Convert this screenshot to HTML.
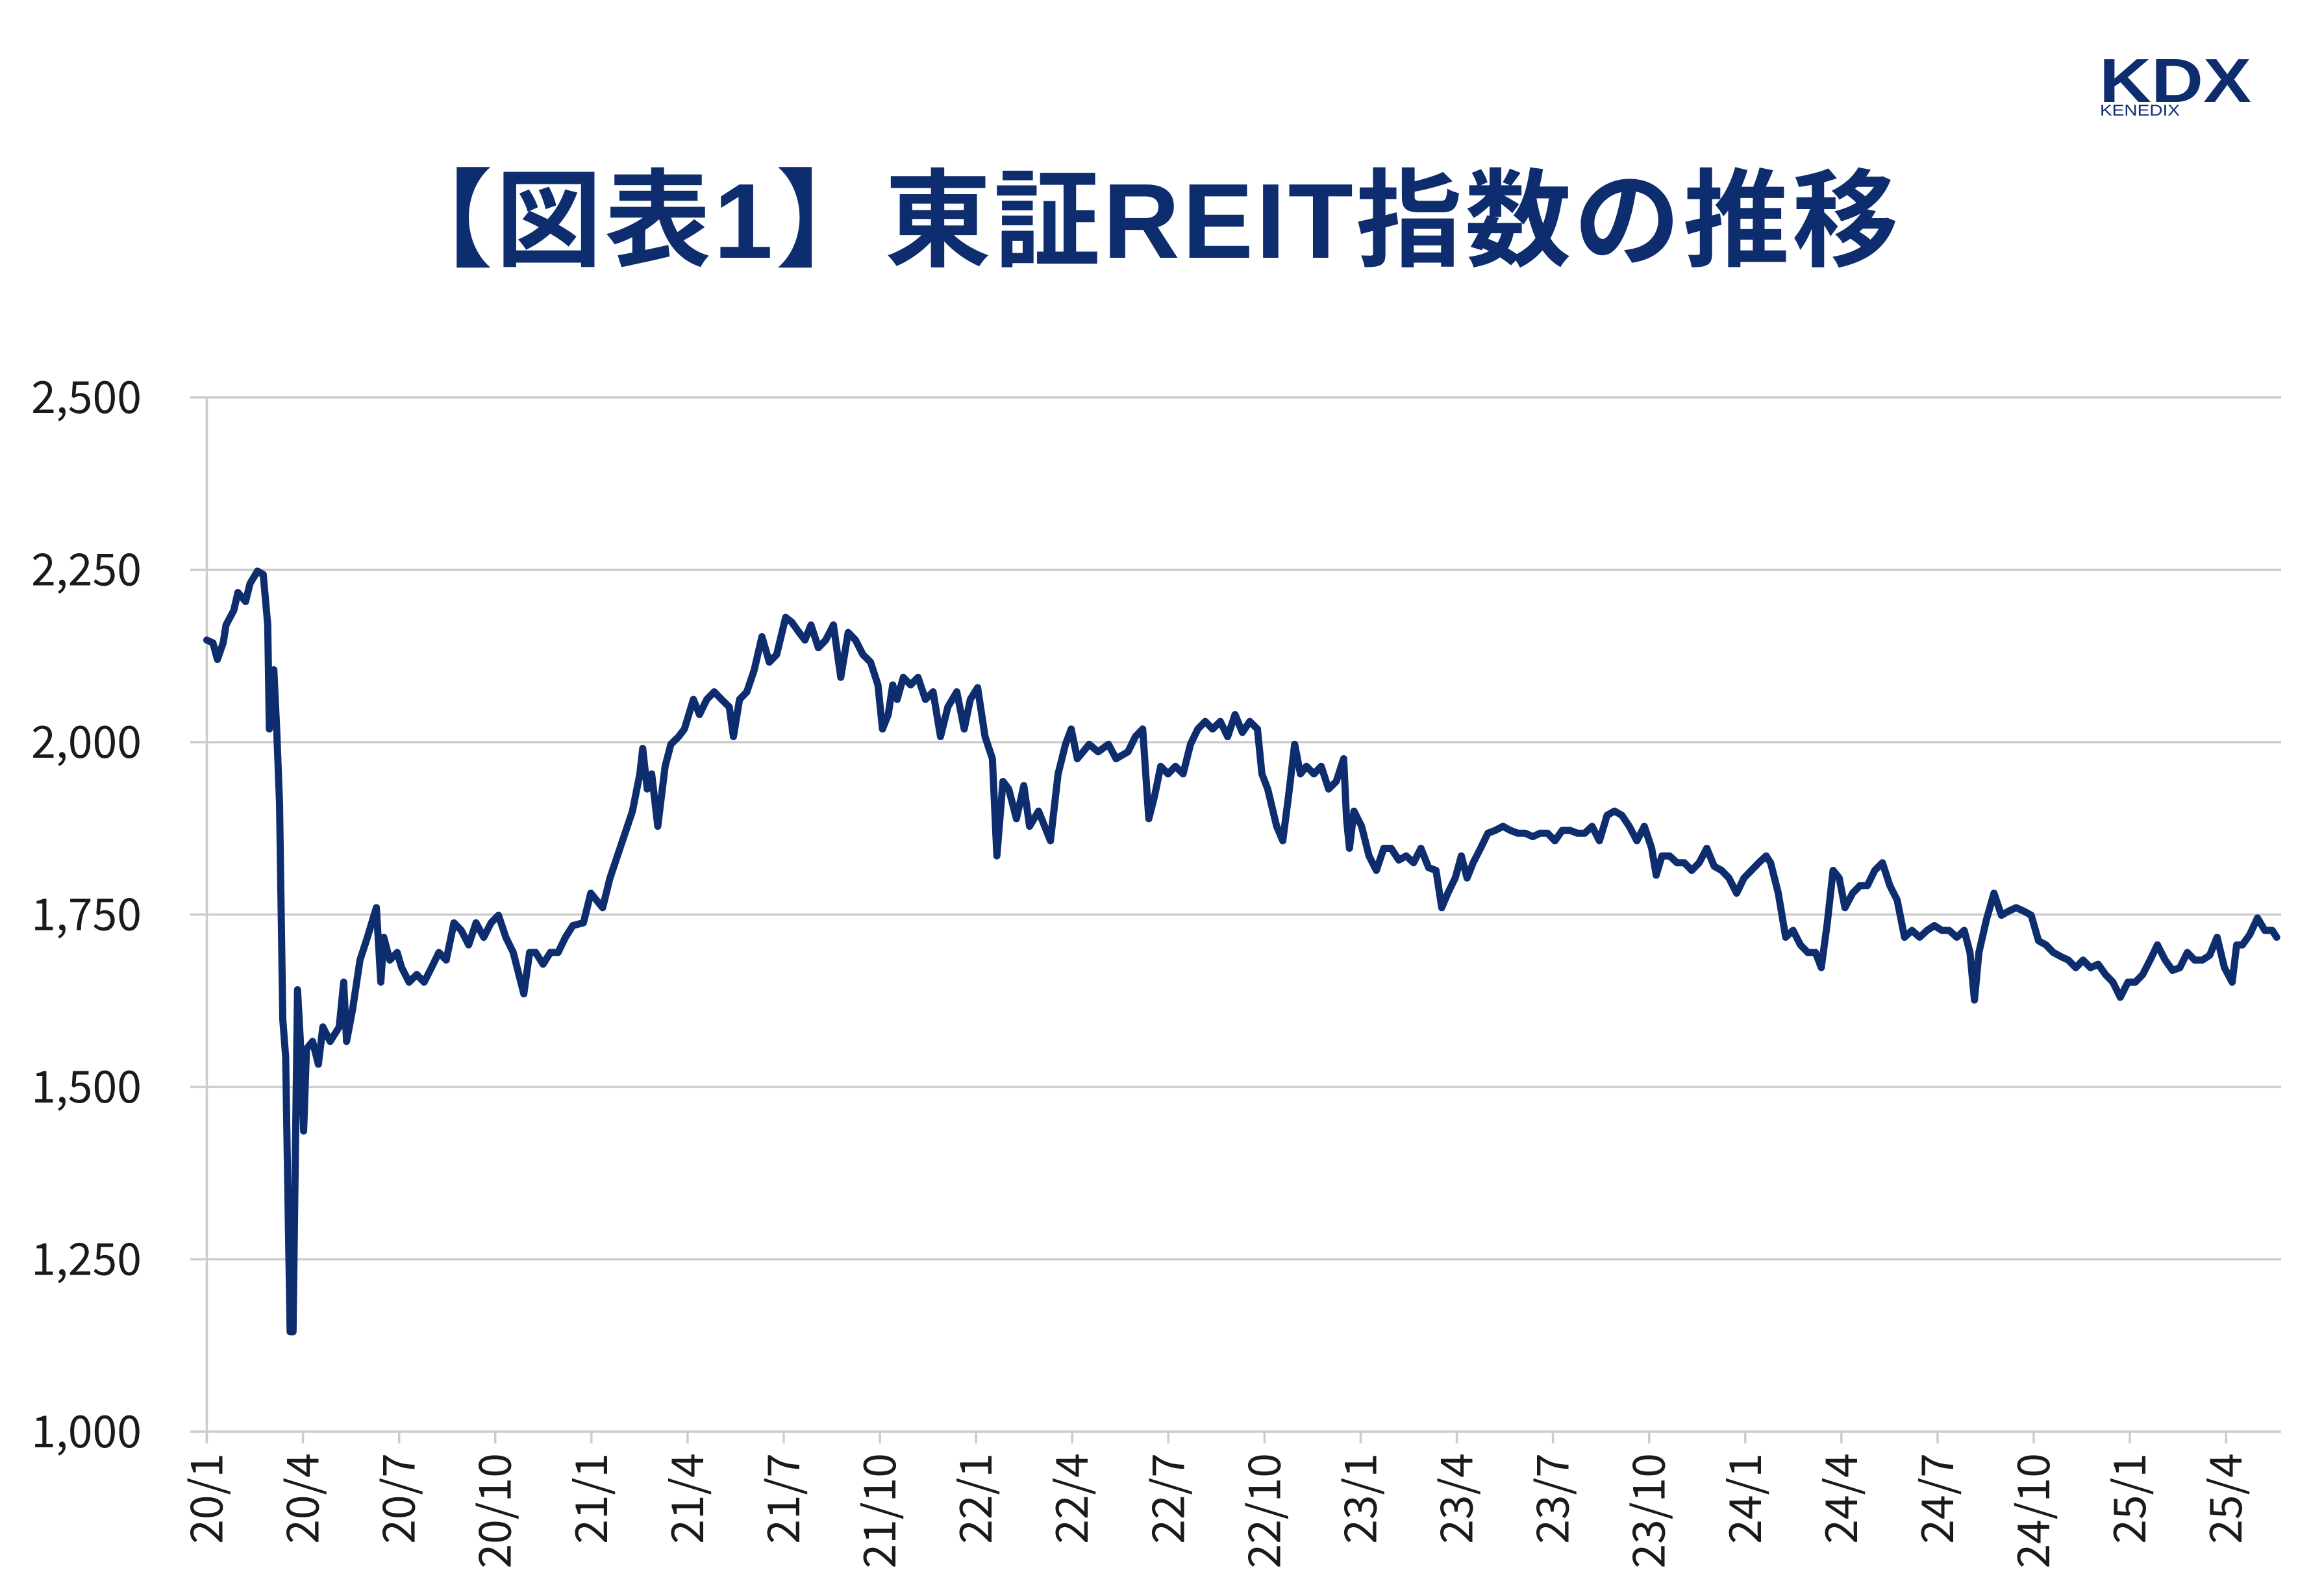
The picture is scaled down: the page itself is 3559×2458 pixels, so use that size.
<!DOCTYPE html>
<html><head><meta charset="utf-8">
<style>
html,body{margin:0;padding:0;background:#fff;}
body{width:3559px;height:2458px;position:relative;overflow:hidden;font-family:"Liberation Sans","Noto Sans CJK JP",sans-serif;}
#title{position:absolute;left:-18px;width:3559px;top:246px;text-align:center;font-family:"Liberation Sans","Noto Sans CJK JP",sans-serif;font-weight:bold;font-size:164px;color:#0e2d6e;line-height:190px;letter-spacing:4px;}
svg{position:absolute;left:0;top:0;}
</style></head>
<body>
<div id="title">【図表1】東証REIT指数の推移</div>
<svg id="logo" width="3559" height="220" viewBox="0 0 3559 220">
  <text x="3233" y="157" font-family="Liberation Sans, sans-serif" font-weight="bold" font-size="96" fill="#0e2d6e" textLength="234" lengthAdjust="spacingAndGlyphs">KDX</text>
  <text x="3234" y="178" font-family="Liberation Sans, sans-serif" font-size="24" fill="#0e2d6e" textLength="123" lengthAdjust="spacingAndGlyphs">KENEDIX</text>
</svg>
<svg id="chart" width="3559" height="2458" viewBox="0 0 3559 2458"></svg>
<script>
const months = [0.00,0.19,0.33,0.51,0.60,0.84,0.97,1.21,1.35,1.58,1.76,1.90,1.95,2.09,2.18,2.27,2.37,2.46,2.60,2.69,2.83,2.92,3.02,3.11,3.30,3.48,3.62,3.85,4.13,4.27,4.36,4.55,4.78,5.01,5.29,5.43,5.52,5.71,5.94,6.08,6.31,6.55,6.78,7.01,7.24,7.47,7.71,7.94,8.17,8.40,8.64,8.87,9.10,9.33,9.56,9.89,10.07,10.26,10.49,10.72,10.96,11.19,11.42,11.75,11.98,12.35,12.58,12.81,13.05,13.28,13.51,13.60,13.74,13.88,14.07,14.30,14.48,14.72,14.90,15.18,15.37,15.60,15.83,16.06,16.30,16.43,16.62,16.85,17.08,17.32,17.55,17.78,18.06,18.25,18.48,18.66,18.85,19.08,19.31,19.55,19.78,20.01,20.24,20.47,20.71,20.94,21.08,21.26,21.40,21.54,21.73,21.96,22.19,22.42,22.66,22.89,23.12,23.40,23.63,23.82,24.05,24.28,24.51,24.65,24.84,25.02,25.26,25.49,25.67,25.95,26.14,26.32,26.56,26.79,26.97,27.16,27.34,27.53,27.81,28.13,28.37,28.74,28.97,29.20,29.39,29.57,29.76,29.99,30.22,30.46,30.69,30.92,31.15,31.38,31.62,31.85,32.08,32.31,32.54,32.78,32.92,33.10,33.38,33.57,33.75,33.94,34.12,34.31,34.54,34.77,35.00,35.24,35.47,35.56,35.65,35.79,36.03,36.26,36.49,36.72,36.95,37.19,37.42,37.65,37.88,38.12,38.35,38.53,38.72,38.95,39.14,39.32,39.51,39.74,39.97,40.20,40.44,40.67,40.90,41.13,41.37,41.60,41.83,42.06,42.29,42.53,42.76,42.99,43.22,43.45,43.69,43.92,44.15,44.38,44.62,44.85,45.08,45.22,45.40,45.64,45.87,46.10,46.33,46.56,46.80,47.03,47.26,47.49,47.73,47.96,48.19,48.42,48.65,48.79,49.03,49.26,49.49,49.72,49.95,50.19,50.37,50.56,50.74,50.93,51.11,51.35,51.58,51.81,52.04,52.28,52.51,52.74,52.97,53.20,53.44,53.67,53.90,54.13,54.36,54.60,54.83,55.01,55.15,55.29,55.52,55.76,55.99,56.22,56.45,56.69,56.92,57.15,57.38,57.61,57.85,58.08,58.31,58.54,58.77,59.01,59.24,59.47,59.70,59.94,60.17,60.40,60.63,60.86,61.10,61.33,61.56,61.79,62.02,62.26,62.49,62.72,62.95,63.19,63.33,63.51,63.74,63.98,64.21,64.44,64.58];
const values = [2148,2144,2120,2144,2170,2191,2217,2204,2230,2248,2243,2170,2019,2105,2019,1911,1598,1544,1145,1145,1641,1566,1436,1555,1566,1533,1587,1566,1587,1652,1566,1613,1684,1717,1760,1652,1717,1684,1695,1673,1652,1663,1652,1673,1695,1684,1738,1727,1706,1738,1717,1738,1749,1717,1695,1635,1695,1695,1678,1695,1695,1717,1734,1738,1781,1760,1803,1835,1868,1900,1954,1991,1932,1954,1878,1965,1997,2008,2019,2062,2040,2062,2073,2062,2051,2008,2062,2073,2105,2153,2116,2127,2181,2174,2159,2148,2170,2137,2148,2170,2094,2159,2148,2127,2116,2083,2019,2040,2083,2062,2094,2083,2094,2062,2073,2008,2051,2073,2019,2062,2079,2008,1976,1835,1943,1932,1889,1937,1878,1900,1878,1857,1954,1997,2019,1976,1986,1997,1986,1997,1976,1986,2008,2019,1889,1922,1965,1954,1965,1954,1997,2019,2030,2019,2030,2008,2040,2014,2030,2019,1954,1932,1878,1857,1922,1997,1954,1965,1954,1965,1932,1943,1976,1889,1846,1900,1878,1835,1814,1846,1846,1829,1835,1825,1846,1818,1814,1760,1781,1803,1835,1803,1825,1846,1868,1872,1878,1872,1868,1868,1863,1868,1868,1857,1872,1872,1868,1868,1878,1857,1894,1900,1894,1878,1857,1878,1846,1807,1835,1835,1825,1825,1814,1825,1846,1820,1814,1803,1781,1803,1814,1825,1835,1825,1781,1717,1727,1706,1695,1695,1673,1738,1814,1803,1760,1781,1792,1792,1814,1825,1792,1771,1717,1727,1717,1727,1734,1727,1727,1717,1727,1695,1626,1695,1742,1781,1749,1755,1760,1755,1749,1712,1706,1695,1689,1684,1673,1684,1673,1678,1663,1652,1630,1652,1652,1663,1684,1706,1684,1669,1673,1695,1684,1684,1691,1717,1673,1652,1706,1706,1721,1745,1727,1727,1717];
const yTicks = [1000,1250,1500,1750,2000,2250,2500];
const yTickLabels = ["1,000","1,250","1,500","1,750","2,000","2,250","2,500"];
const xTickMonths = [0,3,6,9,12,15,18,21,24,27,30,33,36,39,42,45,48,51,54,57,60,63];
const xTickLabels = ["20/1","20/4","20/7","20/10","21/1","21/4","21/7","21/10","22/1","22/4","22/7","22/10","23/1","23/4","23/7","23/10","24/1","24/4","24/7","24/10","25/1","25/4"];

const NS = "http://www.w3.org/2000/svg";
const svg = document.getElementById('chart');
const X0 = 318.5, MW = 49.36, XR = 3513, YT = 612, YB = 2205, VMIN = 1000, VMAX = 2500;
const FONT = '"Noto Sans CJK JP","Liberation Sans",sans-serif';
const xs = m => X0 + m * MW;
const ys = v => YB - (v - VMIN) / (VMAX - VMIN) * (YB - YT);
function mk(tag, attrs){ const e = document.createElementNS(NS, tag); for (const k in attrs) e.setAttribute(k, attrs[k]); svg.appendChild(e); return e; }

yTicks.forEach((v, i) => {
  const g = mk('line', {x1: 293, x2: XR, y1: ys(v), y2: ys(v), stroke: '#cccccc', 'stroke-width': 3.5});
  
  
  const t = mk('text', {x: 218, y: ys(v) + 24, 'text-anchor': 'end', 'font-size': 68, fill: '#1a1a1a', 'font-family': FONT});
  t.textContent = yTickLabels[i];
  
  
});
const ax = mk('line', {x1: X0, x2: X0, y1: YT, y2: YB + 18, stroke: '#cccccc', 'stroke-width': 3.5});



xTickMonths.forEach((m, i) => {
  const tk = mk('line', {x1: xs(m), x2: xs(m), y1: YB, y2: YB + 18, stroke: '#cccccc', 'stroke-width': 3.5});
  
  
  const x = xs(m) + 24, y = 2238;
  const t = mk('text', {x: x, y: y, 'text-anchor': 'end', 'font-size': 68, fill: '#1a1a1a', transform: 'rotate(-90 ' + x + ' ' + y + ')', 'font-family': FONT});
  t.textContent = xTickLabels[i];
  
  
});

let d = '';
months.forEach((m, i) => { d += (i ? 'L' : 'M') + xs(m).toFixed(1) + ' ' + ys(values[i]).toFixed(1); });
const line = mk('path', {d: d, fill: 'none', stroke: '#0e2d6e', 'stroke-width': 11, 'stroke-linejoin': 'round', 'stroke-linecap': 'round'});


</script>
</body></html>
